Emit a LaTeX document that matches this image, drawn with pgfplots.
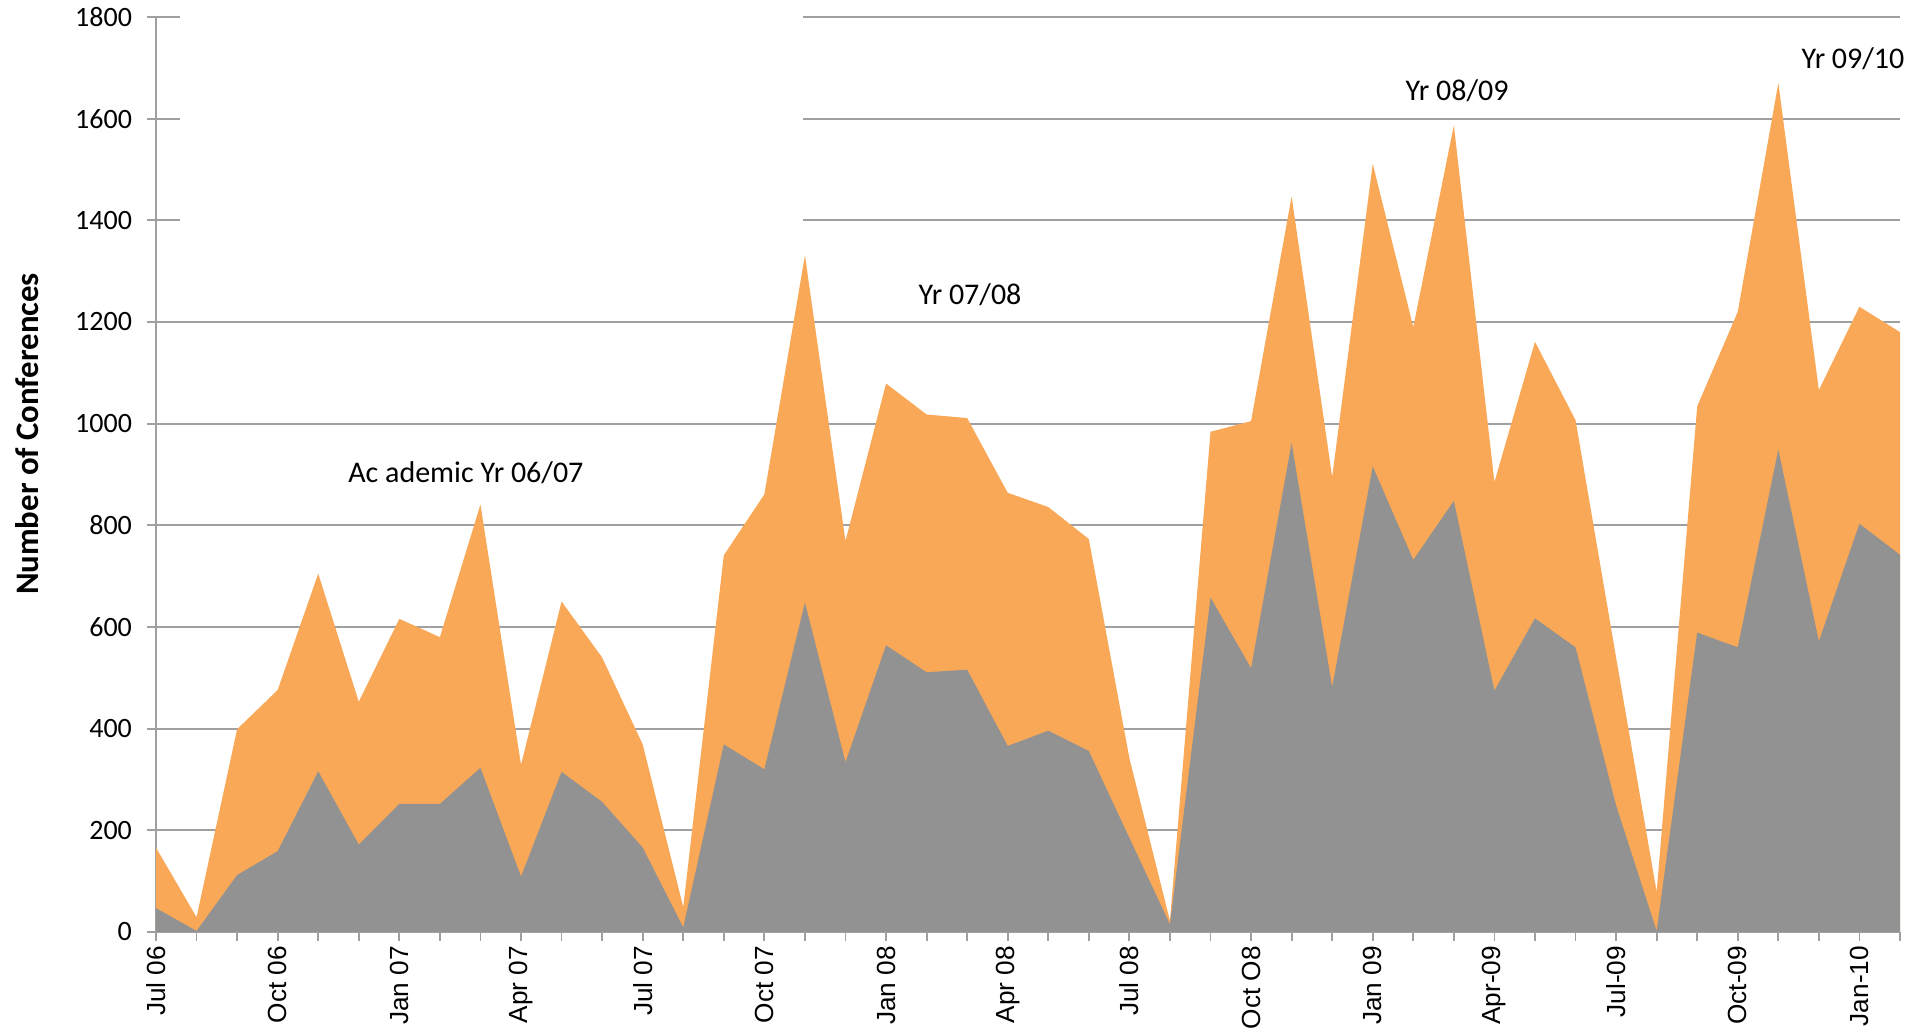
\documentclass[border=0pt]{standalone}
\usepackage{pgfplots}
\pgfplotsset{compat=1.18}
\usepackage{pgfplotstable}
\usepackage{fontspec}
\setmainfont{Carlito}
\newfontfamily\lib{Liberation Sans}
\definecolor{areaorange}{HTML}{F8A857}
\definecolor{areagray}{HTML}{929292}
\definecolor{gridgray}{HTML}{A0A0A0}

\pgfplotstableread{
x t g
0 166 47
1 29 2
2 399 112
3 476 159
4 705 316
5 453 172
6 616 252
7 580 252
8 841 323
9 329 109
10 650 315
11 540 256
12 369 166
13 49 9
14 741 369
15 861 320
16 1331 648
17 769 334
18 1079 564
19 1018 511
20 1011 516
21 864 366
22 836 396
23 773 356
24 342 185
25 22 15
26 984 658
27 1005 519
28 1447 962
29 895 482
30 1511 916
31 1190 732
32 1587 848
33 885 475
34 1161 617
35 1007 560
36 540 249
37 79 2
38 1034 589
39 1220 560
40 1670 949
41 1066 572
42 1230 803
43 1180 742
}\data

\begin{document}
\begin{tikzpicture}
\useasboundingbox (-78pt,-50pt) rectangle (886pt,466pt);
\begin{axis}[
  at={(0,0)}, anchor=south west, scale only axis,
  width=872pt, height=457.5pt,
  xmin=0, xmax=43, ymin=0, ymax=1800,
  axis x line=bottom, axis y line=left,
  axis line style={gridgray, line width=0.9pt, -},
  ymajorgrids, grid style={gridgray, line width=0.9pt},
  ytick={0,200,...,1800},
  xtick={0,3,...,42},
  minor xtick={0,...,43},
  xticklabels={Jul 06, Oct 06, Jan 07, Apr 07, Jul 07, Oct 07, Jan 08, Apr 08, Jul 08, Oct O8, Jan 09, Apr-09, Jul-09, Oct-09, Jan-10},
  tick align=outside,
  major tick length=4.5pt, minor tick length=4.5pt,
  tick style={gridgray, line width=0.9pt},
  every tick/.style={gridgray, line width=0.9pt},
  minor tick style={gridgray, line width=0.9pt},
  yticklabel style={font=\fontsize{14}{15}\selectfont, xshift=-4pt},
  xticklabel style={font=\lib\fontsize{13.1}{14}\selectfont, rotate=90, anchor=east, xshift=1pt},
  /pgf/number format/1000 sep={},
  /pgf/number format/assume math mode=true,
  clip=false,
]
\fill[white] (axis cs:0.6,1290) rectangle (axis cs:15.95,1830);
\addplot[fill=areaorange, draw=none] table[x=x,y=t] {\data} \closedcycle;
\addplot[fill=areagray, draw=none] table[x=x,y=g] {\data} \closedcycle;
\node[font=\fontsize{15}{18}\selectfont] at (axis cs:7.64,903) {Ac ademic Yr 06/07};
\node[font=\fontsize{15}{18}\selectfont] at (axis cs:20.07,1253) {Yr 07/08};
\node[font=\fontsize{15}{18}\selectfont] at (axis cs:32.08,1655) {Yr 08/09};
\node[font=\fontsize{15}{18}\selectfont] at (axis cs:41.84,1717) {Yr 09/10};
\end{axis}
\node[rotate=90, font=\bfseries\fontsize{16.4}{18}\selectfont] at (-64.5pt,249pt) {Number of Conferences};
\end{tikzpicture}
\end{document}
